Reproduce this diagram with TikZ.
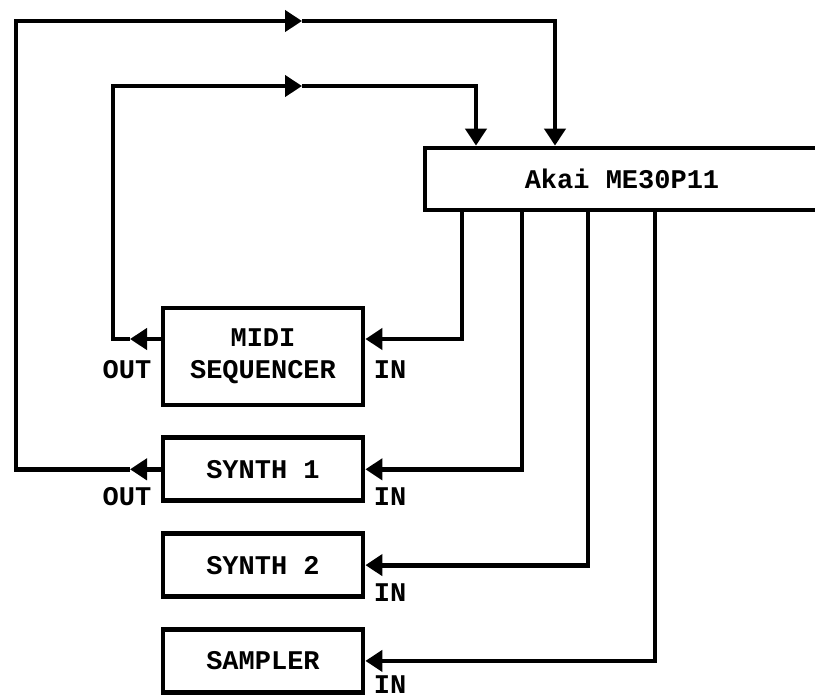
\documentclass[tikz,border=0pt]{standalone}
\usepackage{fontspec}
\newfontfamily\monofam{Liberation Mono}
\newcommand\unitfont{\fontsize{13.5}{16}\selectfont\monofam\bfseries}
\usepackage{tikz}
\usetikzlibrary{arrows.meta,positioning}

\begin{document}
\begin{tikzpicture}[
  x=0.5pt,y=-0.5pt,
  node distance=14pt,
  unit/.style={draw,line width=2.4pt,minimum width=100pt,minimum height=31.5pt,align=center,inner sep=0pt,font=\unitfont},
  port/.style={font=\unitfont,inner sep=0pt},
  wire/.style={line width=2.4pt},
  feed/.style={wire,-{Triangle[length=8.5pt,width=10.5pt]}}
]
  \useasboundingbox (0,0) rectangle (815,698);
  \clip (0,0) rectangle (815,698);

  \node[unit,minimum width=197pt,minimum height=31pt] (akai) at (622,179) {Akai ME30P11};

  \node[unit,minimum height=48.5pt] (midi) at (263,356.5) {MIDI\\SEQUENCER};
  \node[unit,below=of midi] (synA) {SYNTH 1};
  \node[unit,below=of synA] (synB) {SYNTH 2};
  \node[unit,below=of synB] (smp) {SAMPLER};

  \node[port] (midiOut) at (127,370) {OUT};
  \node[port] (midiIn) at (390,370) {IN};
  \node[port] (synAOut) at (127,497) {OUT};
  \node[port] (synAIn) at (390,497) {IN};
  \node[port] (synBIn) at (390,593) {IN};
  \node[port] (smpIn) at (390,685) {IN};

  % outputs of the Akai
  \coordinate (dropA) at (462,339);
  \coordinate (dropB) at (522,0);
  \coordinate (dropC) at (588,0);
  \coordinate (dropD) at (655,0);
  \draw[feed] (akai.south -| dropA) -- (dropA) -- (midi.east |- dropA);
  \draw[feed] (akai.south -| dropB) |- (synA.east);
  \draw[feed] (akai.south -| dropC) |- (synB.east);
  \draw[feed] (akai.south -| dropD) |- (smp.east);

  % loops back to the Akai
  \coordinate (seqTip) at (130,339);
  \coordinate (innerL) at (113,86);
  \coordinate (innerM) at (302,86);
  \coordinate (innerR) at (476,0);
  \draw[feed] (midi.west |- seqTip) -- (seqTip);
  \draw[feed] (seqTip) -| (innerL) -- (innerM);
  \draw[feed] (innerM) -| (akai.north -| innerR);

  \coordinate (synTip) at (130,0);
  \coordinate (outerL) at (16,21);
  \coordinate (outerM) at (302,21);
  \coordinate (outerR) at (555,0);
  \draw[feed] (synA.west) -- (synA.west -| synTip);
  \draw[feed] (synA.west -| synTip) -| (outerL) -- (outerM);
  \draw[feed] (outerM) -| (akai.north -| outerR);
\end{tikzpicture}
\end{document}
